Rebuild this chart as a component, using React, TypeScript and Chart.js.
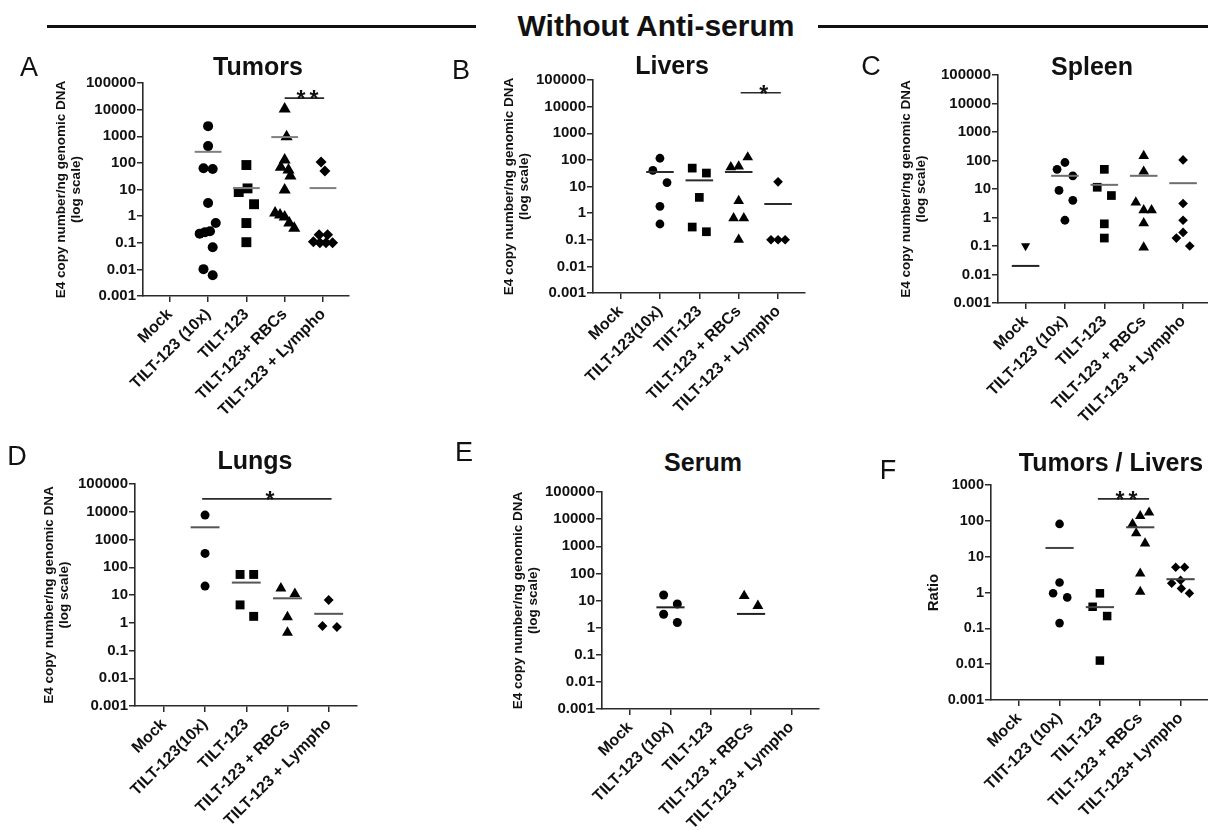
import React, { useEffect, useRef } from "react";
import { Chart, registerables } from "chart.js";

Chart.register(...registerables);

// ---------------- DATA ----------------
const copyTicks = [0.001, 0.01, 0.1, 1, 10, 100, 1000, 10000, 100000];
const copyTickLabels = ["0.001", "0.01", "0.1", "1", "10", "100", "1000", "10000", "100000"];
const ratioTicks = [0.001, 0.01, 0.1, 1, 10, 100, 1000];
const ratioTickLabels = ["0.001", "0.01", "0.1", "1", "10", "100", "1000"];
const copyAxisTitle = ["E4 copy number/ng genomic DNA", "(log scale)"];
const ratioAxisTitle = ["Ratio"];

// A - Tumors
const tumorsCategories = ["Mock", "TILT-123 (10x)", "TILT-123", "TILT-123+ RBCs", "TILT-123 + Lympho"];
const tumorsValues = [
  [],
  [2400, 427, 63, 59, 3.1, 0.55, 0.27, 0.25, 0.22, 0.068, 0.0102, 0.006],
  [83, 11, 8, 2.8, 0.55, 0.105],
  [10500, 950, 128, 69, 54, 32, 9.5, 1.3, 1.1, 0.92, 0.55, 0.35],
  [107, 49, 0.2, 0.2, 0.11, 0.1, 0.1, 0.1],
];
const tumorsJitter = [
  [],
  [0, 0, -0.12, 0.12, 0, 0.2, 0.05, -0.08, -0.22, 0.12, -0.12, 0.12],
  [0, 0.03, -0.2, 0.2, 0, 0],
  [0, 0.05, 0, -0.1, 0.1, 0.15, 0, -0.25, -0.12, 0, 0.12, 0.25],
  [-0.05, 0.05, -0.1, 0.12, -0.25, -0.08, 0.08, 0.25],
];
const tumorsMeans = [null, 260, 11.3, 930, 11.3];
const tumorsSig = { from: 3, to: 4.03, y: 27000, label: "**" };

// B - Livers
const liversCategories = ["Mock", "TILT-123(10x)", "TIIT-123", "TILT-123 + RBCs", "TILT-123 + Lympho"];
const liversValues = [
  [],
  [115, 40, 14, 1.8, 0.39],
  [49, 32, 3.9, 0.3, 0.2],
  [53, 57, 125, 2.9, 0.65, 0.65, 0.1],
  [15, 0.1, 0.1, 0.1],
];
const liversJitter = [
  [],
  [0, -0.18, 0.18, 0, 0],
  [-0.18, 0.18, 0, -0.18, 0.18],
  [-0.2, 0, 0.23, 0, -0.13, 0.13, 0],
  [0, -0.18, 0, 0.18],
];
const liversMeans = [null, 35, 17, 35, 2.2];
const liversSig = { from: 3.05, to: 4.07, y: 33000, label: "*" };

// C - Spleen
const spleenCategories = ["Mock", "TILT-123 (10x)", "TILT-123", "TILT-123 + RBCs", "TILT-123 + Lympho"];
const spleenValues = [
  [0.1],
  [85, 49, 29, 8.9, 4, 0.8],
  [49, 11.5, 5.9, 0.6, 0.19],
  [145, 41, 3.4, 1.8, 1.8, 0.63, 0.09],
  [105, 3.1, 0.8, 0.3, 0.19, 0.1],
];
const spleenJitter = [
  [0],
  [0, -0.2, 0.2, -0.15, 0.2, 0],
  [0, -0.18, 0.18, 0, 0],
  [0, 0, -0.2, 0, 0.2, 0, 0],
  [0, 0, 0, 0, -0.17, 0.17],
];
const spleenMeans = [0.02, 29, 14, 29, 16];

// D - Lungs
const lungsCategories = ["Mock", "TILT-123(10x)", "TILT-123", "TILT-123 + RBCs", "TILT-123 + Lympho"];
const lungsValues = [
  [],
  [7600, 316, 21],
  [55, 55, 4.4, 1.7],
  [17.5, 11, 1.6, 0.44],
  [6.6, 0.76, 0.7],
];
const lungsJitter = [
  [],
  [0, 0, 0],
  [-0.15, 0.18, -0.15, 0.18],
  [-0.16, 0.18, 0, 0],
  [0, -0.15, 0.2],
];
const lungsMeans = [null, 2750, 28, 7.6, 2.1];
const lungsSig = { from: 0.93, to: 4.07, y: 29000, label: "*" };

// E - Serum
const serumCategories = ["Mock", "TILT-123 (10x)", "TILT-123", "TILT-123 + RBCs", "TILT-123 + Lympho"];
const serumValues = [[], [16, 7.4, 3.1, 1.55], [], [14.7, 6.4], []];
const serumJitter = [[], [-0.17, 0.17, -0.17, 0.17], [], [-0.17, 0.17], []];
const serumMeans = [null, 5.6, null, 3.2, null];

// F - Tumors / Livers
const ratioCategories = ["Mock", "TIIT-123 (10x)", "TILT-123", "TILT-123 + RBCs", "TILT-123+ Lympho"];
const ratioValues = [
  [],
  [82, 1.9, 0.95, 0.73, 0.14],
  [0.95, 0.4, 0.22, 0.0126],
  [82, 136, 170, 45, 23.5, 3.4, 1.05],
  [5.1, 5.1, 1.8, 2.2, 1.3, 0.95],
];
const ratioJitter = [
  [],
  [0, 0, -0.16, 0.19, 0],
  [0, -0.18, 0.18, 0],
  [-0.19, 0, 0.22, -0.1, 0.12, 0, 0],
  [-0.12, 0.1, -0.22, 0, 0.02, 0.22],
];
const ratioMeans = [null, 17.5, 0.39, 66, 2.35];
const ratioSig = { from: 1.95, to: 3.22, y: 410, label: "**" };

// ---------------- STYLE ----------------
const FONT = '"Liberation Sans", Arial, Helvetica, sans-serif';
const INK = "#111111";
const AXIS = "#2a2a2a";
const markerStyles = ["triangle", "circle", "rect", "triangle", "rectRot"];
const markerRotation = [180, 0, 0, 0, 0];
const markerRadius = [6, 5, 7, 7, 5.5];

type Sig = { from: number; to: number; y: number; label: string };
type Geom = {
  axisX: number; topY: number; bottomY: number; rightX: number; yTitleX: number;
  titleX: number; titleY: number; letterX: number; letterY: number;
};
type PanelSpec = {
  letter: string; title: string; categories: string[];
  values: number[][]; jitter: number[][]; means: (number | null)[];
  yTicks: number[]; yTickLabels: string[]; yTitle: string[];
  sig?: Sig; meanColor: string; firstMeanColor?: string; markerScale: number;
  tickFont: number; geom: Geom;
};

const panels: PanelSpec[] = [
  {
    letter: "A", title: "Tumors", categories: tumorsCategories, values: tumorsValues, jitter: tumorsJitter,
    means: tumorsMeans, yTicks: copyTicks, yTickLabels: copyTickLabels, yTitle: copyAxisTitle, sig: tumorsSig,
    meanColor: "#808080", markerScale: 1, tickFont: 15,
    geom: { axisX: 143, topY: 83, bottomY: 296, rightX: 352, yTitleX: 61, titleX: 258, titleY: 66, letterX: 29, letterY: 67 },
  },
  {
    letter: "B", title: "Livers", categories: liversCategories, values: liversValues, jitter: liversJitter,
    means: liversMeans, yTicks: copyTicks, yTickLabels: copyTickLabels, yTitle: copyAxisTitle, sig: liversSig,
    meanColor: "#2b2b2b", markerScale: 0.88, tickFont: 15,
    geom: { axisX: 593, topY: 80, bottomY: 293, rightX: 807, yTitleX: 509, titleX: 672, titleY: 65, letterX: 461, letterY: 70 },
  },
  {
    letter: "C", title: "Spleen", categories: spleenCategories, values: spleenValues, jitter: spleenJitter,
    means: spleenMeans, yTicks: copyTicks, yTickLabels: copyTickLabels, yTitle: copyAxisTitle,
    meanColor: "#6e6e6e", firstMeanColor: "#222222", markerScale: 0.88, tickFont: 15,
    geom: { axisX: 998, topY: 75, bottomY: 303, rightX: 1212, yTitleX: 906, titleX: 1092, titleY: 66, letterX: 871, letterY: 66 },
  },
  {
    letter: "D", title: "Lungs", categories: lungsCategories, values: lungsValues, jitter: lungsJitter,
    means: lungsMeans, yTicks: copyTicks, yTickLabels: copyTickLabels, yTitle: copyAxisTitle, sig: lungsSig,
    meanColor: "#555555", markerScale: 0.9, tickFont: 15,
    geom: { axisX: 135, topY: 484, bottomY: 706, rightX: 359, yTitleX: 49, titleX: 255, titleY: 460, letterX: 17, letterY: 456 },
  },
  {
    letter: "E", title: "Serum", categories: serumCategories, values: serumValues, jitter: serumJitter,
    means: serumMeans, yTicks: copyTicks, yTickLabels: copyTickLabels, yTitle: copyAxisTitle,
    meanColor: "#222222", markerScale: 0.9, tickFont: 15,
    geom: { axisX: 602, topY: 492, bottomY: 709, rightX: 821, yTitleX: 518, titleX: 703, titleY: 462, letterX: 464, letterY: 452 },
  },
  {
    letter: "F", title: "Tumors / Livers", categories: ratioCategories, values: ratioValues, jitter: ratioJitter,
    means: ratioMeans, yTicks: ratioTicks, yTickLabels: ratioTickLabels, yTitle: ratioAxisTitle, sig: ratioSig,
    meanColor: "#444444", markerScale: 0.86, tickFont: 14.5,
    geom: { axisX: 991, topY: 485, bottomY: 700, rightX: 1210, yTitleX: 933, titleX: 1111, titleY: 462, letterX: 888, letterY: 470 },
  },
];

const PAD_TOP = 14;
const PAD_RIGHT = 4;
const X_AXIS_H = 128;
const Y_TITLE_LH = 15;

function canvasBox(g: Geom) {
  const left = Math.round(g.yTitleX - Y_TITLE_LH / 2);
  const top = g.topY - PAD_TOP;
  const width = g.rightX + PAD_RIGHT - left;
  const height = g.bottomY + X_AXIS_H - top;
  return { left, top, width, height, yW: g.axisX - left };
}

const sigLabelPlugin = {
  id: "sigLabel",
  afterDatasetsDraw(chart: any, _args: any, opts: any) {
    const sig: Sig | undefined = opts && opts.sig;
    if (!sig) return;
    const xs = chart.scales.x;
    const ys = chart.scales.y;
    const cx = (xs.getPixelForValue(sig.from) + xs.getPixelForValue(sig.to)) / 2;
    const cy = ys.getPixelForValue(sig.y);
    const ctx = chart.ctx;
    const chars = sig.label.split("");
    const step = 13;
    ctx.save();
    ctx.font = `bold 23px ${FONT}`;
    ctx.fillStyle = INK;
    ctx.textAlign = "center";
    ctx.textBaseline = "alphabetic";
    chars.forEach((ch, k) => {
      const off = (k - (chars.length - 1) / 2) * step;
      ctx.fillText(ch, cx + off + 3, cy + 9);
    });
    ctx.restore();
  },
};

function buildConfig(p: PanelSpec): any {
  const box = canvasBox(p.geom);
  const datasets: any[] = [];
  p.means.forEach((m, i) => {
    if (m == null) return;
    datasets.push({
      data: [{ x: i - 0.35, y: m }, { x: i + 0.35, y: m }],
      showLine: true,
      borderColor: i === 0 && p.firstMeanColor ? p.firstMeanColor : p.meanColor,
      borderWidth: 2,
      pointRadius: 0,
      clip: false,
    });
  });
  if (p.sig) {
    datasets.push({
      data: [{ x: p.sig.from, y: p.sig.y }, { x: p.sig.to, y: p.sig.y }],
      showLine: true,
      borderColor: AXIS,
      borderWidth: 1.6,
      pointRadius: 0,
      clip: false,
    });
  }
  p.values.forEach((vals, i) => {
    if (!vals.length) return;
    datasets.push({
      data: vals.map((v, j) => ({ x: i + (p.jitter[i][j] || 0), y: v })),
      showLine: false,
      pointStyle: markerStyles[i],
      pointRotation: markerRotation[i],
      pointRadius: markerRadius[i] * p.markerScale,
      pointBackgroundColor: "#000000",
      pointBorderColor: "#000000",
      pointBorderWidth: 0,
      clip: false,
    });
  });

  const gridOpts = {
    display: true,
    drawOnChartArea: false,
    drawTicks: true,
    tickLength: 6,
    color: AXIS,
    lineWidth: 1.5,
  };
  const borderOpts = { display: true, color: AXIS, width: 1.6 };

  return {
    type: "scatter",
    data: { datasets },
    plugins: [sigLabelPlugin],
    options: {
      responsive: false,
      maintainAspectRatio: false,
      animation: false,
      devicePixelRatio: 1,
      events: [],
      layout: { padding: { top: PAD_TOP, right: PAD_RIGHT, left: 0, bottom: 0 } },
      plugins: {
        legend: { display: false },
        tooltip: { enabled: false },
        title: { display: false },
        sigLabel: { sig: p.sig },
      },
      scales: {
        x: {
          type: "linear",
          min: -0.7,
          max: 4.68,
          afterBuildTicks: (s: any) => {
            s.ticks = p.categories.map((_c, i) => ({ value: i }));
          },
          afterFit: (s: any) => {
            s.height = X_AXIS_H;
          },
          ticks: {
            autoSkip: false,
            minRotation: 45,
            maxRotation: 45,
            padding: 3,
            color: INK,
            font: { family: FONT, size: 16, weight: "bold" },
            callback: (v: any) => p.categories[Math.round(Number(v))] ?? "",
          },
          grid: gridOpts,
          border: borderOpts,
        },
        y: {
          type: "logarithmic",
          min: p.yTicks[0],
          max: p.yTicks[p.yTicks.length - 1],
          afterBuildTicks: (s: any) => {
            s.ticks = p.yTicks.map((v) => ({ value: v }));
          },
          afterFit: (s: any) => {
            s.width = box.yW;
          },
          ticks: {
            autoSkip: false,
            padding: 1,
            color: INK,
            font: { family: FONT, size: p.tickFont, weight: "bold" },
            callback: (_v: any, i: number) => p.yTickLabels[i],
          },
          grid: gridOpts,
          border: borderOpts,
          title: {
            display: true,
            text: p.yTitle.length > 1 ? p.yTitle : p.yTitle[0],
            color: INK,
            padding: 0,
            font: { family: FONT, size: p.yTitle.length > 1 ? 13.5 : 15, weight: "bold", lineHeight: `${Y_TITLE_LH}px` },
          },
        },
      },
    },
  };
}

function PanelChart({ panel }: { panel: PanelSpec }) {
  const ref = useRef<HTMLCanvasElement | null>(null);
  const box = canvasBox(panel.geom);
  useEffect(() => {
    if (!ref.current) return;
    const chart = new Chart(ref.current, buildConfig(panel));
    return () => chart.destroy();
  }, []);
  return (
    <canvas
      ref={ref}
      width={box.width}
      height={box.height}
      style={{ position: "absolute", left: box.left, top: box.top, width: box.width, height: box.height }}
    />
  );
}

function Label({ x, y, text, size, bold }: { x: number; y: number; text: string; size: number; bold?: boolean }) {
  return (
    <div
      style={{
        position: "absolute",
        left: x,
        top: y,
        transform: "translate(-50%, -50%)",
        font: `${bold ? "bold " : ""}${size}px ${FONT}`,
        lineHeight: 1,
        whiteSpace: "nowrap",
        color: INK,
      }}
    >
      {text}
    </div>
  );
}

export default function App() {
  return (
    <div
      style={{
        position: "absolute",
        left: 0,
        top: 0,
        width: 1208,
        height: 830,
        overflow: "hidden",
        background: "#ffffff",
      }}
    >
      <div style={{ position: "absolute", left: 47, top: 25, width: 429, height: 3, background: INK }} />
      <div style={{ position: "absolute", left: 818, top: 25, width: 390, height: 3, background: INK }} />
      <Label x={656} y={26} text="Without Anti-serum" size={30} bold />
      {panels.map((p) => (
        <React.Fragment key={p.letter}>
          <PanelChart panel={p} />
          <Label x={p.geom.titleX} y={p.geom.titleY} text={p.title} size={25} bold />
          <Label x={p.geom.letterX} y={p.geom.letterY} text={p.letter} size={27} />
        </React.Fragment>
      ))}
    </div>
  );
}
